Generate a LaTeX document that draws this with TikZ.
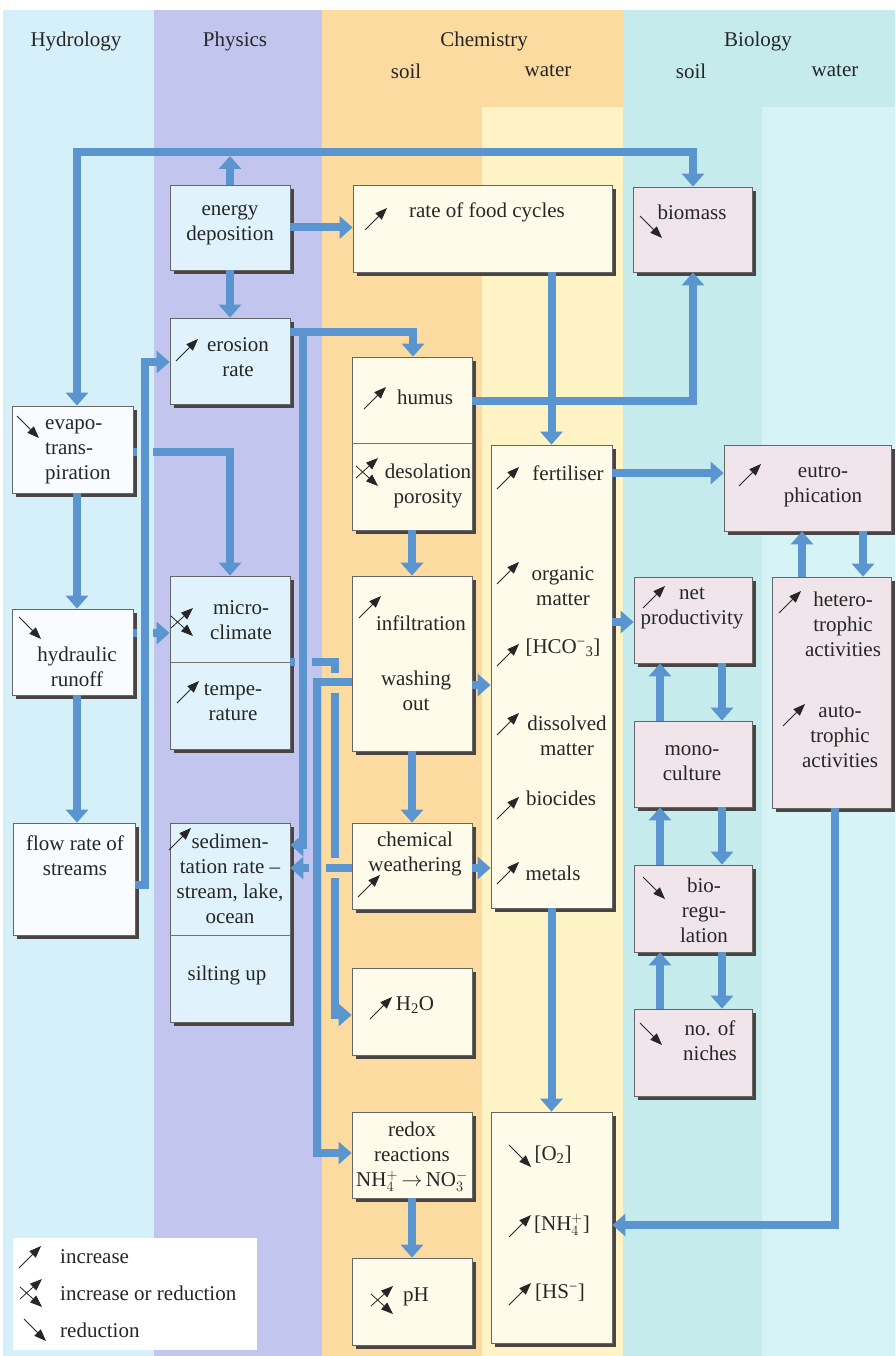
\documentclass[tikz,border=0pt]{standalone}
\usepackage{fontspec}
\setmainfont{Liberation Serif}
\usepackage{tikz}
\usetikzlibrary{arrows.meta,shadows}

\definecolor{hydrobg}{HTML}{D6F0FA}
\definecolor{physbg}{HTML}{C2C6EF}
\definecolor{chembg}{HTML}{FBDBA0}
\definecolor{chemwbg}{HTML}{FDF3C4}
\definecolor{biobg}{HTML}{C6EBED}
\definecolor{biowbg}{HTML}{D6F3F5}
\definecolor{hfill}{HTML}{F8FCFE}
\definecolor{pfill}{HTML}{E0F3FC}
\definecolor{cfill}{HTML}{FFFBEA}
\definecolor{bfill}{HTML}{EFE5EB}
\definecolor{shadowcol}{HTML}{4A4444}
\definecolor{flowblue}{HTML}{5B95CF}

\begin{document}
\begin{tikzpicture}[x=1pt,y=-1pt,
  font=\fontsize{21}{25}\selectfont,
  every node/.style={text=black!85},
  flowarrow/.style={flowblue,line width=8pt,-{Triangle[width=22pt,length=13pt]}},
  box/.style={draw=black!60,line width=0.8pt,inner sep=0pt,
    drop shadow={shadow xshift=4pt,shadow yshift=-4pt,fill=shadowcol,opacity=1}},
  hbox/.style={box,fill=hfill},
  pbox/.style={box,fill=pfill},
  cbox/.style={box,fill=cfill},
  bbox/.style={box,fill=bfill},
  divider/.style={draw=black!55,line width=0.8pt},
  lbl/.style={align=center,inner sep=0pt},
  ind/.style={black!85,line width=0.8pt,-{Triangle[width=9pt,length=12pt]}},
  incr/.pic={\draw[ind] (-11,11) -- (11,-11);},
  decr/.pic={\draw[ind] (-11,-11) -- (11,11);},
  incdec/.pic={\draw[ind] (-12,6) -- (10,-14); \draw[ind] (-12,-6) -- (10,14);}]
  \useasboundingbox (0,0) rectangle (895,1356);
  % columns
  \fill[white] (0,0) rectangle (895,1356);
  \fill[hydrobg] (3,10) rectangle (154,1356);
  \fill[physbg] (154,10) rectangle (322,1356);
  \fill[chembg] (322,10) rectangle (623,1356);
  \fill[chemwbg] (482,107) rectangle (623,1356);
  \fill[biobg] (623,10) rectangle (895,1356);
  \fill[biowbg] (762,107) rectangle (895,1356);
  % headings
  \node[lbl] (hhydro) at (76,41) {Hydrology};
  \node[lbl] (hphys) at (235,41) {Physics};
  \node[lbl] (hchem) at (484,41) {Chemistry};
  \node[lbl] (hcsoil) at (406,71) {soil};
  \node[lbl] (hcwater) at (548,71) {water};
  \node[lbl] (hbio) at (758,41) {Biology};
  \node[lbl] (hbsoil) at (691,71) {soil};
  \node[lbl] (hbwater) at (835,71) {water};

  % boxes
  \node[pbox,minimum width=120pt,minimum height=85pt] (energy) at (230,227.5) {};
  \node[cbox,minimum width=259pt,minimum height=87pt] (food) at (482.5,228.5) {};
  \node[bbox,minimum width=119pt,minimum height=85pt] (biomass) at (692.5,229.5) {};
  \node[pbox,minimum width=120pt,minimum height=86pt] (erosion) at (230,361) {};
  \node[hbox,minimum width=121pt,minimum height=87pt] (evapo) at (72.5,449.5) {};
  \node[cbox,minimum width=120pt,minimum height=173pt] (humus) at (412,443.5) {};
  \node[cbox,minimum width=121pt,minimum height=463pt] (fert) at (551.5,676.5) {};
  \node[bbox,minimum width=167pt,minimum height=86pt] (eutro) at (807.5,488) {};
  \node[pbox,minimum width=120pt,minimum height=173pt] (micro) at (230,662.5) {};
  \node[hbox,minimum width=121pt,minimum height=86pt] (runoff) at (72.5,652) {};
  \node[cbox,minimum width=120pt,minimum height=175pt] (infil) at (412,663.5) {};
  \node[bbox,minimum width=118pt,minimum height=86pt] (netprod) at (693,620) {};
  \node[bbox,minimum width=119pt,minimum height=231pt] (hetero) at (831.5,692.5) {};
  \node[bbox,minimum width=118pt,minimum height=86pt] (mono) at (693,764) {};
  \node[hbox,minimum width=122pt,minimum height=112pt] (streams) at (74,879) {};
  \node[pbox,minimum width=120pt,minimum height=199pt] (sedim) at (230,922.5) {};
  \node[cbox,minimum width=120pt,minimum height=86pt] (chemw) at (412,866) {};
  \node[bbox,minimum width=118pt,minimum height=87pt] (bioreg) at (693,908.5) {};
  \node[cbox,minimum width=120pt,minimum height=87pt] (water) at (412,1011.5) {};
  \node[bbox,minimum width=118pt,minimum height=87pt] (niches) at (693,1052.5) {};
  \node[cbox,minimum width=120pt,minimum height=86pt] (redox) at (412,1155) {};
  \node[cbox,minimum width=121pt,minimum height=231pt] (oxy) at (551.5,1227.5) {};
  \node[cbox,minimum width=120pt,minimum height=87pt] (ph) at (412,1301.5) {};
  % split lines
  \draw[divider] (humus.west |- 0,443) -- (humus.east |- 0,443);
  \draw[divider] (micro.west |- 0,662) -- (micro.east |- 0,662);
  \draw[divider] (sedim.west |- 0,935) -- (sedim.east |- 0,935);

  % box texts
  \node[lbl] (tenergy) at (230,225) {energy\\deposition};
  \node[lbl] (tfood) at (487,212) {rate of food cycles};
  \node[lbl] (tbiomass) at (692,212) {biomass};
  \node[lbl] (terosion) at (238,357) {erosion\\rate};
  \node[lbl,align=left,anchor=west] (tevapo) at (45,452) {evapo-\\trans-\\piration};
  \node[lbl] (thumus) at (425,397) {humus};
  \node[lbl] (tdesol) at (428,486) {desolation\\porosity};
  \node[lbl] (tmicro) at (241,620) {micro-\\climate};
  \node[lbl] (trunoff) at (77,667) {hydraulic\\runoff};
  \node[lbl] (ttemp) at (233,702) {tempe-\\rature};
  \node[lbl] (tinfil) at (421,623) {infiltration};
  \node[lbl] (twash) at (416,691) {washing\\out};
  \node[lbl] (tfert) at (568,473) {fertiliser};
  \node[lbl] (torganic) at (563,586) {organic\\matter};
  \node[lbl] (thco) at (563,648) {[HCO\textsuperscript{−}\textsubscript{3}]};
  \node[lbl] (tdiss) at (567,736) {dissolved\\matter};
  \node[lbl] (tbiocides) at (561,798) {biocides};
  \node[lbl] (tmetals) at (553,873) {metals};
  \node[lbl] (teutro) at (823,486) {eutro-\\phication};
  \node[lbl] (tnetprod) at (692,608) {net\\productivity};
  \node[lbl] (thetero) at (843,624) {hetero-\\trophic\\activities};
  \node[lbl] (tauto) at (840,737) {auto-\\trophic\\activities};
  \node[lbl] (tmono) at (692,763) {mono-\\culture};
  \node[lbl] (tbioreg) at (704,910) {bio-\\regu-\\lation};
  \node[lbl] (tstreams) at (75,856) {flow rate of\\streams};
  \node[lbl] (tsedim) at (230,879) {sedimen-\\tation rate –\\stream, lake,\\ocean};
  \node[lbl] (tsilt) at (227,975) {silting up};
  \node[lbl] (tchemw) at (415,854) {chemical\\weathering};
  \node[lbl] (twater) at (415,1005) {H\textsubscript{2}O};
  \node[lbl] (tredox) at (412,1157) {redox\\reactions\\NH$_4^+$\,$\rightarrow$\,NO$_3^-$};
  \node[lbl] (tph) at (416,1297) {pH};
  \node[lbl] (tniches) at (710,1041) {no. of\\niches};
  \node[lbl] (toxy) at (553,1155) {[O\textsubscript{2}]};
  \node[lbl] (tnh) at (562,1225) {[NH$_4^+$]};
  \node[lbl] (ths) at (560,1293) {[HS\textsuperscript{−}]};

  % trend marks
  \pic at (376,219) {incr};
  \pic at (651,227) {decr};
  \pic at (187,350) {incr};
  \pic at (28,427) {decr};
  \pic at (375,398) {incr};
  \pic at (368,472) {incdec};
  \pic at (183,622) {incdec};
  \pic at (30,628) {decr};
  \pic at (370,607) {incr};
  \pic at (188,692) {incr};
  \pic at (180,839) {incr};
  \pic at (369,886) {incr};
  \pic at (381,1008) {incr};
  \pic at (383,1300) {incdec};
  \pic at (508,478) {incr};
  \pic at (508,573) {incr};
  \pic at (508,655) {incr};
  \pic at (508,724) {incr};
  \pic at (508,808) {incr};
  \pic at (508,873) {incr};
  \pic at (750,475) {incr};
  \pic at (654,597) {incr};
  \pic at (790,602) {incr};
  \pic at (794,715) {incr};
  \pic at (654,888) {decr};
  \pic at (651,1034) {decr};
  \pic at (520,1156) {decr};
  \pic at (520,1226) {incr};
  \pic at (520,1294) {incr};

  % connectors drawn underneath
  \draw[flowarrow] (micro.east |- 0,662) -- (335,662) -- (335,1015) -- (water.west |- 0,1015);
  \draw[flowarrow] (evapo.east |- 0,452) -- (230,452) -- (micro.north);
  \draw[flowarrow] (runoff.east |- 0,633) -- (micro.west |- 0,633);
  % crossings
  \fill[hydrobg] (137,444) rectangle (153,460);
  \fill[hydrobg] (137,625) rectangle (153,641);
  \fill[physbg] (295,654) rectangle (312,670);
  \fill[chembg] (328,673) rectangle (342,693);
  \fill[chembg] (328,858) rectangle (342,878);
  \draw[flowarrow] (chemw.west |- 0,868) -- (sedim.east |- 0,868);
  \fill[physbg] (309,860) rectangle (322,876);
  \fill[chembg] (322,860) rectangle (326,876);
  % connectors
  \coordinate (loopL) at (77,152);
  \coordinate (loopR) at (693,152);
  \draw[flowarrow] (loopR) -- (loopL) -- (loopL |- evapo.north);
  \draw[flowarrow] (loopL) -- (loopR) -- (loopR |- biomass.north);
  \draw[flowarrow,shorten >=4pt] (energy.north) -- (energy.north |- loopL);
  \draw[flowarrow] (energy.east) -- (food.west |- energy.east);
  \draw[flowarrow] (energy.south) -- (erosion.north);
  \draw[flowarrow] (fert.north |- food.south) -- (fert.north);
  \draw[flowarrow] (humus.east |- 0,401) -- (loopR |- 0,401) -- (loopR |- biomass.south);
  \draw[flowarrow] (erosion.east |- 0,332) -- (413,332) -- (413,0 |- humus.north);
  \draw[flowarrow] (303,332) -- (303,845) -- (sedim.east |- 0,845);
  \draw[flowarrow] (streams.east |- 0,885) -- (145,885) -- (145,362) -- (erosion.west |- 0,362);
  \draw[flowarrow] (loopL |- evapo.south) -- (loopL |- runoff.north);
  \draw[flowarrow] (loopL |- runoff.south) -- (loopL |- streams.north);
  \draw[flowarrow] (humus.south) -- (infil.north);
  \draw[flowarrow] (infil.east |- 0,685) -- (fert.west |- 0,685);
  \draw[flowarrow] (infil.south) -- (chemw.north);
  \draw[flowarrow] (chemw.east |- 0,868) -- (fert.west |- 0,868);
  \draw[flowarrow] (infil.west |- 0,682) -- (317,682) -- (317,1153) -- (redox.west |- 0,1153);
  \draw[flowarrow] (redox.south) -- (ph.north);
  \draw[flowarrow] (fert.east |- 0,473) -- (eutro.west |- 0,473);
  \draw[flowarrow] (fert.east |- 0,622) -- (netprod.west |- 0,622);
  \draw[flowarrow] (fert.south) -- (oxy.north);
  \draw[flowarrow] (802,0 |- hetero.north) -- (802,0 |- eutro.south);
  \draw[flowarrow] (863,0 |- eutro.south) -- (863,0 |- hetero.north);
  \draw[flowarrow] (660,0 |- mono.north) -- (660,0 |- netprod.south);
  \draw[flowarrow] (722,0 |- netprod.south) -- (722,0 |- mono.north);
  \draw[flowarrow] (660,0 |- bioreg.north) -- (660,0 |- mono.south);
  \draw[flowarrow] (722,0 |- mono.south) -- (722,0 |- bioreg.north);
  \draw[flowarrow] (660,0 |- niches.north) -- (660,0 |- bioreg.south);
  \draw[flowarrow] (722,0 |- bioreg.south) -- (722,0 |- niches.north);
  \draw[flowarrow] (835,0 |- hetero.south) -- (835,1225) -- (oxy.east |- 0,1225);

  % legend
  \node[fill=white,minimum width=244pt,minimum height=112pt,inner sep=0pt] (legend) at (135,1294) {};
  \pic at (30,1257) {incr};
  \pic at (32,1293) {incdec};
  \pic at (35,1330) {decr};
  \node[lbl,anchor=west] (lincr) at (60,1257) {increase};
  \node[lbl,anchor=west] (lboth) at (60,1293) {increase or reduction};
  \node[lbl,anchor=west] (ldecr) at (60,1330) {reduction};
\end{tikzpicture}
\end{document}
